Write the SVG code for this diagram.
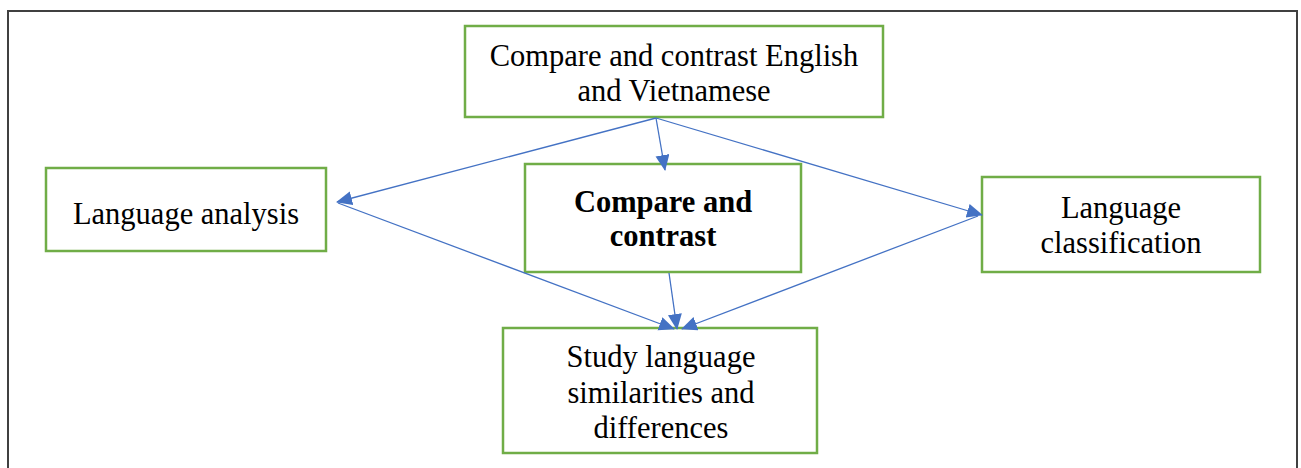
<svg xmlns="http://www.w3.org/2000/svg" width="1301" height="468" viewBox="0 0 1301 468">
<style>
.box{fill:#fff;stroke:#70AD47;stroke-width:2.5}
text{font-family:'Liberation Serif','DejaVu Serif',serif;font-size:30.5px;fill:#000;text-anchor:middle}
.b{font-weight:bold}
.c{stroke:#4472C4;stroke-width:1.3;fill:none;marker-end:url(#ah)}
</style>
<defs>
<marker id="ah" markerUnits="userSpaceOnUse" markerWidth="18" markerHeight="16" refX="15" refY="7" orient="auto">
<path d="M0,0 L16,7 L0,14 Z" fill="#4472C4"/>
</marker>
</defs>
<rect width="1301" height="468" fill="#fff"/>
<path d="M8,470 V11 H1297 V470" fill="none" stroke="#404040" stroke-width="2"/>
<g id="n1"><rect class="box" x="465" y="26" width="418" height="91"/>
<text x="674" y="66">Compare and contrast English</text>
<text x="674" y="101">and Vietnamese</text></g>
<g id="n2"><rect class="box" x="46" y="168" width="280" height="83"/>
<text x="186" y="224">Language analysis</text></g>
<g id="n3"><rect class="box" x="525" y="164" width="276" height="108"/>
<text class="b" x="663" y="212">Compare and</text>
<text class="b" x="663" y="246">contrast</text></g>
<g id="n4"><rect class="box" x="982" y="177" width="278" height="95"/>
<text x="1121" y="218">Language</text>
<text x="1121" y="253">classification</text></g>
<g id="n5"><rect class="box" x="503" y="328" width="314" height="125"/>
<text x="661" y="367">Study language</text>
<text x="661" y="403">similarities and</text>
<text x="661" y="438">differences</text></g>
<g id="connectors">
<line class="c" x1="656" y1="118" x2="337" y2="202"/>
<line class="c" x1="656" y1="118" x2="665" y2="170"/>
<line class="c" x1="656" y1="118" x2="982" y2="215"/>
<line class="c" x1="338" y1="203" x2="674" y2="329"/>
<line class="c" x1="669" y1="273" x2="677" y2="329"/>
<line class="c" x1="978" y1="216" x2="682" y2="329"/>
</g>
</svg>
